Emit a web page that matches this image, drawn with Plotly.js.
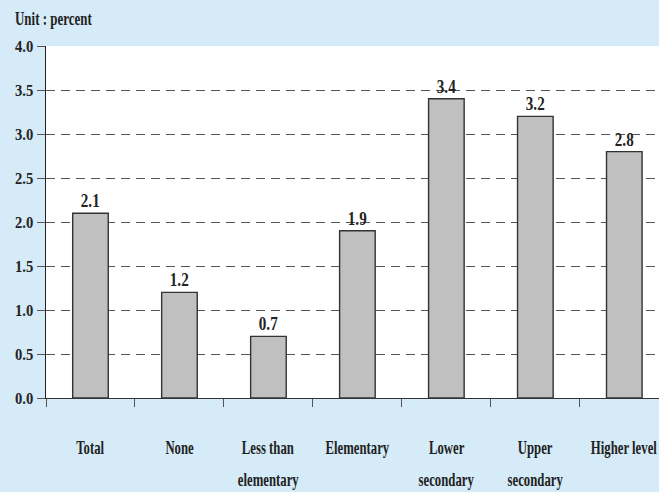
<!DOCTYPE html>
<html>
<head>
<meta charset="utf-8">
<script src="https://cdn.plot.ly/plotly-3.0.1.min.js"></script>
<style>html,body{margin:0;padding:0;background:#d5ebf8;}#chart{width:659px;height:492px;}</style>
</head>
<body>
<div id="chart"></div>
<script>
const categories = ["Total", "None", "Less than\nelementary", "Elementary", "Lower\nsecondary", "Upper\nsecondary", "Higher level"];
const values = [2.1, 1.2, 0.7, 1.9, 3.4, 3.2, 2.8];
const yTicks = [0, 0.5, 1.0, 1.5, 2.0, 2.5, 3.0, 3.5, 4.0];
const unitLabel = "Unit : percent";

const FONT = "Liberation Serif";
const idx = categories.map((c, i) => i);

const annotations = [];
categories.forEach((c, i) => {
  const lines = c.split("\n");
  lines.forEach((ln, j) => {
    annotations.push({
      x: i, xref: 'x', yref: 'paper',
      y: j === 0 ? -0.142 : -0.233,
      yanchor: 'middle', xanchor: 'center',
      text: '<b>' + ln + '</b>', showarrow: false,
      font: {family: FONT, size: 18.5, color: '#222'}
    });
  });
});
values.forEach((v, i) => {
  annotations.push({
    x: i, xref: 'x', y: v, yref: 'y',
    yanchor: 'bottom', xanchor: 'center', yshift: 0,
    text: '<b>' + v.toFixed(1) + '</b>', showarrow: false,
    font: {family: FONT, size: 18, color: '#222'}
  });
});
annotations.push({
  x: 0, xref: 'paper', xanchor: 'left', xshift: -33,
  y: 1, yref: 'paper', yanchor: 'middle', yshift: 27,
  text: '<b>' + unitLabel + '</b>', showarrow: false,
  font: {family: FONT, size: 18, color: '#222'}
});

const trace = {
  type: 'bar',
  x: idx,
  y: values,
  width: 0.4,
  marker: {color: '#c0c0c0', line: {color: '#333', width: 1.4}},
  hoverinfo: 'none'
};

const layout = {
  width: 659, height: 492,
  margin: {l: 46, r: 0, t: 46, b: 94, pad: 0},
  paper_bgcolor: '#d5ebf8',
  plot_bgcolor: '#ffffff',
  showlegend: false,
  xaxis: {
    type: 'linear',
    range: [-0.5, 6.39],
    tickvals: idx.map(i => i - 0.5),
    showticklabels: false,
    ticks: 'outside', ticklen: 8, tickcolor: '#555', tickwidth: 1,
    showgrid: false, zeroline: false,
    showline: true, linecolor: '#333', linewidth: 1.3
  },
  yaxis: {
    range: [0, 4],
    tickvals: yTicks,
    ticktext: yTicks.map(v => '<b>' + v.toFixed(1) + '</b>'),
    ticks: 'outside', ticklen: 8, tickcolor: '#555', tickwidth: 1,
    tickfont: {family: FONT, size: 17, color: '#222'},
    showgrid: true, gridcolor: '#555', gridwidth: 1, griddash: '9px,6px',
    zeroline: false,
    showline: true, linecolor: '#222', linewidth: 1.3
  },
  annotations: annotations
};

function condense(el, sx, pivot) {
  const b = el.getBBox();
  let px = b.x + b.width / 2;
  if (pivot === 'left') px = b.x;
  if (pivot === 'right') px = b.x + b.width;
  const old = el.getAttribute('transform') || '';
  el.setAttribute('transform', (old + ' matrix(' + sx + ',0,0,1,' + (px * (1 - sx)) + ',0)').trim());
}

Plotly.newPlot('chart', [trace], layout, {displayModeBar: false, staticPlot: true}).then(gd => {
  gd.querySelectorAll('.annotation-text').forEach(t => {
    const s = t.textContent;
    if (/^\d\.\d$/.test(s)) condense(t, 0.84, 'center');
    else if (s.indexOf('Unit') === 0) condense(t, 0.72, 'left');
    else condense(t, 0.69, 'center');
  });
  gd.querySelectorAll('.ytick text').forEach(t => condense(t, 0.86, 'right'));
});
</script>
</body>
</html>
